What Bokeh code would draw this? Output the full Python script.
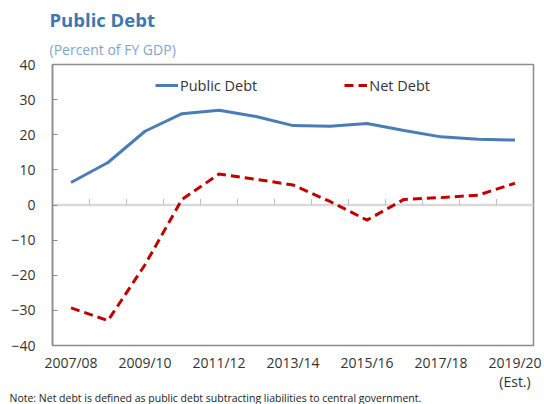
from bokeh.plotting import figure
from bokeh.models import Range1d, FixedTicker, Legend, LegendItem, Title
from bokeh.embed import file_html
from bokeh.resources import INLINE

years = ["2007/08", "2008/09", "2009/10", "2010/11", "2011/12", "2012/13", "2013/14",
         "2014/15", "2015/16", "2016/17", "2017/18", "2018/19", "2019/20"]
public_debt = [6.4, 12.1, 21.0, 26.0, 27.0, 25.2, 22.6, 22.4, 23.2, 21.2, 19.4, 18.7, 18.5]
net_debt = [-29.3, -32.9, -17.0, 1.6, 8.8, 7.3, 5.7, 1.0, -4.3, 1.6, 2.1, 2.8, 6.2]
y_ticks = [-40, -30, -20, -10, 0, 10, 20, 30, 40]
x_tick_labels = {0: "2007/08", 2: "2009/10", 4: "2011/12", 6: "2013/14",
                 8: "2015/16", 10: "2017/18", 12: "2019/20\n(Est.)"}
title_text = "Public Debt"
subtitle_text = "(Percent of FY GDP)"
note = "Note: Net debt is defined as public debt subtracting liabilities to central government."

FONT = "Open Sans"
GRAY = "#8C8C8C"
TEXT = "#333333"

xs = list(range(len(years)))

p = figure(width=544, height=404, output_backend="svg", toolbar_location=None,
           x_range=Range1d(-0.5, len(years) - 0.5), y_range=Range1d(-40, 40),
           min_border_left=52, min_border_right=11, min_border_top=64, min_border_bottom=58)
p.background_fill_color = "white"
p.border_fill_color = "white"
p.outline_line_color = GRAY
p.outline_line_width = 1.5
p.xgrid.visible = False
p.ygrid.visible = False

# y axis
p.yaxis.ticker = FixedTicker(ticks=y_ticks)
p.yaxis.axis_line_color = GRAY
p.yaxis.axis_line_width = 1.5
p.yaxis.major_tick_line_color = GRAY
p.yaxis.major_tick_in = 5
p.yaxis.major_tick_out = 0
p.yaxis.minor_tick_line_color = None
p.yaxis.major_label_standoff = 17
p.yaxis.major_label_text_font = FONT
p.yaxis.major_label_text_font_size = "14px"
p.yaxis.major_label_text_color = TEXT

# x axis
p.xaxis.ticker = FixedTicker(ticks=list(x_tick_labels.keys()))
p.xaxis.major_label_overrides = x_tick_labels
p.xaxis.axis_line_color = None
p.xaxis.major_tick_line_color = None
p.xaxis.minor_tick_line_color = None
p.xaxis.major_label_standoff = 1
p.xaxis.major_label_text_font = FONT
p.xaxis.major_label_text_font_size = "14px"
p.xaxis.major_label_text_color = TEXT
p.xaxis.major_label_text_line_height = 1.0

# zero line with category boundary ticks
p.line(x=[-0.5, len(years) - 0.5], y=[0, 0], line_color="#D9D9D9", line_width=2.5)
bounds = [i + 0.5 for i in range(len(years) - 1)]
p.segment(x0=bounds, y0=[0] * len(bounds), x1=bounds, y1=[1.7] * len(bounds),
          line_color="#BFBFBF", line_width=1)

r1 = p.line(xs, public_debt, line_color="#4A7DB5", line_width=3)
r2 = p.line(xs, net_debt, line_color="#C00000", line_width=3, line_dash="9 5")

legend = Legend(items=[LegendItem(label="Public Debt", renderers=[r1]),
                       LegendItem(label="Net Debt", renderers=[r2])],
                orientation="horizontal", location=(103, 250), spacing=87,
                glyph_width=23, glyph_height=20, label_standoff=2, padding=0, margin=0,
                border_line_color=None, background_fill_alpha=0,
                label_text_font=FONT, label_text_font_size="14.5px", label_text_color=TEXT)
p.add_layout(legend, "center")

# subtitle first (closest to the frame), then the title above it
p.add_layout(Title(text=subtitle_text, align="left", offset=-3, standoff=12,
                   text_font=FONT, text_font_size="14px", text_font_style="normal",
                   text_color="#7FA6CC"), "above")
p.add_layout(Title(text=title_text, align="left", offset=-3, standoff=0,
                   text_font=FONT, text_font_size="18.5px", text_font_style="bold",
                   text_color="#3C78AE"), "above")
p.add_layout(Title(text=note, align="left", offset=-43, standoff=-5, vertical_align="top",
                   text_font=FONT, text_font_size="10.5px", text_font_style="normal",
                   text_color="#222222"), "below")

open("out.html", "w").write(file_html(p, INLINE))
